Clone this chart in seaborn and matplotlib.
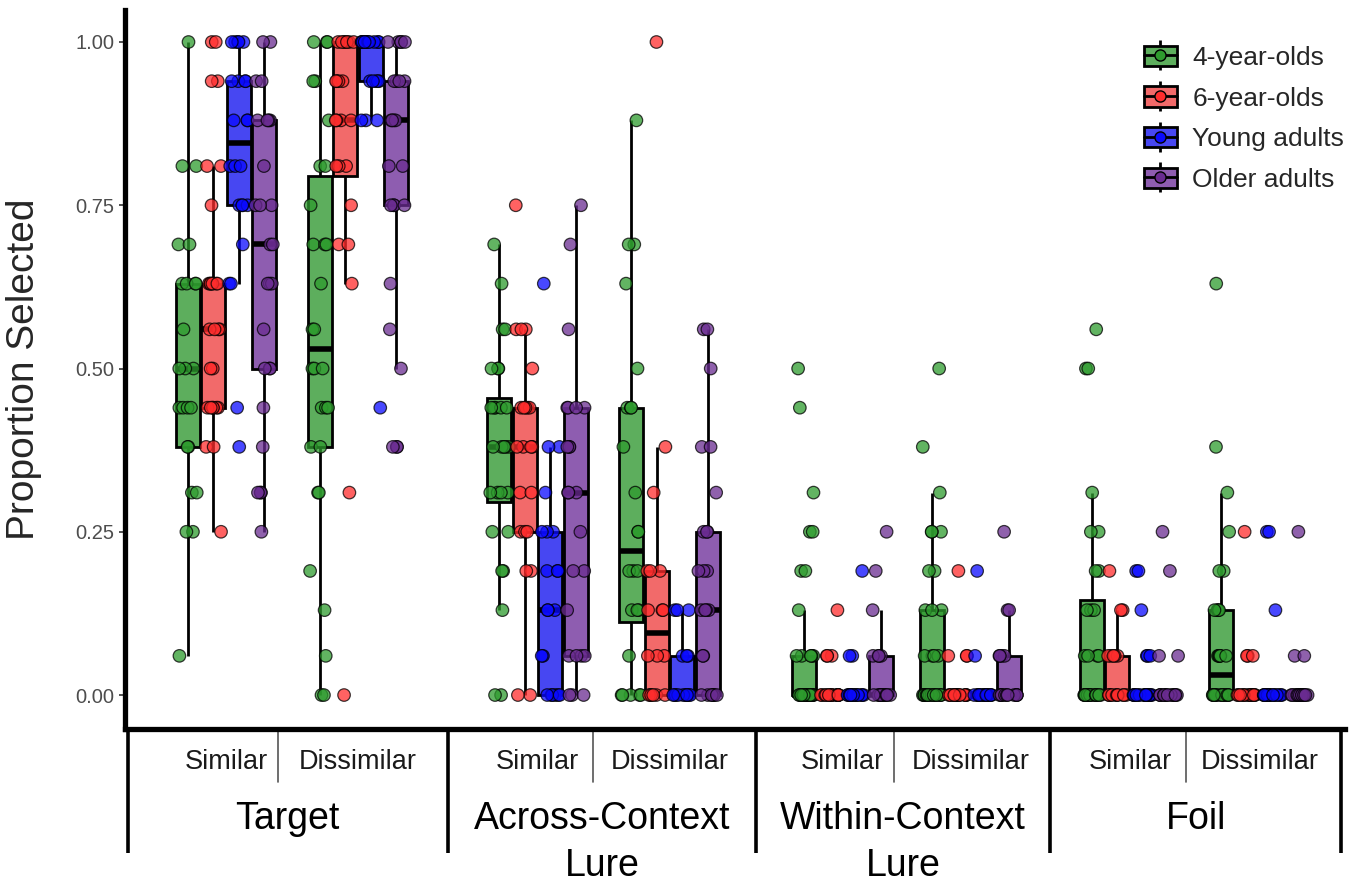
import numpy as np
import pandas as pd
import seaborn as sns
import matplotlib.pyplot as plt
from matplotlib.patches import Patch
from matplotlib.lines import Line2D
from matplotlib.transforms import blended_transform_factory

# proportion levels (k/16, rounded as printed)
levels = [0, 0.06, 0.13, 0.19, 0.25, 0.31, 0.38, 0.44, 0.5, 0.56,
          0.63, 0.69, 0.75, 0.81, 0.88, 0.94, 1.0]

item_types = ["Target", "Across-Context\nLure", "Within-Context\nLure", "Foil"]
similarity = ["Similar", "Dissimilar"]
ages = ["4-year-olds", "6-year-olds", "Young adults", "Older adults"]

# x position of each item type / similarity pair (Target-Sim, Target-Dis, Across-Sim, ...)
cond_pos = [0, 1.0, 2.36, 3.36, 4.67, 5.64, 6.85, 7.83]

# participants at each level (columns = levels), one row per condition
counts_4yo = [
    [0, 1, 0, 0, 2, 2, 2, 4, 3, 1, 4, 2, 0, 2, 0, 0, 1],   # Target Similar
    [2, 1, 1, 1, 0, 2, 2, 3, 3, 2, 1, 3, 1, 2, 1, 2, 3],   # Target Dissimilar
    [2, 0, 1, 2, 2, 4, 5, 5, 3, 2, 1, 1, 0, 0, 0, 0, 0],   # Across Similar
    [5, 1, 3, 3, 2, 1, 1, 3, 1, 0, 1, 2, 0, 0, 1, 0, 0],   # Across Dissimilar
    [20, 5, 1, 2, 2, 1, 0, 1, 1, 0, 0, 0, 0, 0, 0, 0, 0],  # Within Similar
    [18, 4, 3, 2, 3, 1, 1, 0, 1, 0, 0, 0, 0, 0, 0, 0, 0],  # Within Dissimilar
    [17, 4, 3, 2, 2, 1, 0, 0, 2, 1, 0, 0, 0, 0, 0, 0, 0],  # Foil Similar
    [16, 6, 4, 2, 1, 1, 1, 0, 0, 0, 1, 0, 0, 0, 0, 0, 0],  # Foil Dissimilar
]
counts_6yo = [
    [0, 0, 0, 0, 1, 0, 2, 6, 2, 4, 7, 0, 1, 2, 0, 2, 2],
    [1, 0, 0, 0, 0, 1, 0, 0, 0, 0, 1, 2, 1, 3, 4, 4, 7],
    [2, 0, 0, 2, 3, 2, 4, 5, 1, 3, 0, 0, 1, 0, 0, 0, 0],
    [6, 3, 3, 3, 0, 1, 1, 0, 0, 0, 0, 0, 0, 0, 0, 0, 1],
    [16, 3, 1, 0, 0, 0, 0, 0, 0, 0, 0, 0, 0, 0, 0, 0, 0],
    [16, 3, 0, 1, 0, 0, 0, 0, 0, 0, 0, 0, 0, 0, 0, 0, 0],
    [10, 5, 2, 1, 0, 0, 0, 0, 0, 0, 0, 0, 0, 0, 0, 0, 0],
    [15, 3, 0, 0, 1, 0, 0, 0, 0, 0, 0, 0, 0, 0, 0, 0, 0],
]
counts_young = [
    [0, 0, 0, 0, 0, 0, 1, 1, 0, 0, 2, 1, 4, 3, 3, 4, 5],
    [0, 0, 0, 0, 0, 0, 0, 1, 0, 0, 0, 0, 0, 0, 3, 5, 12],
    [6, 2, 3, 3, 3, 1, 2, 0, 0, 0, 1, 0, 0, 0, 0, 0, 0],
    [10, 3, 3, 0, 0, 0, 0, 0, 0, 0, 0, 0, 0, 0, 0, 0, 0],
    [16, 2, 0, 1, 0, 0, 0, 0, 0, 0, 0, 0, 0, 0, 0, 0, 0],
    [17, 1, 0, 1, 0, 0, 0, 0, 0, 0, 0, 0, 0, 0, 0, 0, 0],
    [19, 3, 1, 2, 0, 0, 0, 0, 0, 0, 0, 0, 0, 0, 0, 0, 0],
    [17, 0, 1, 0, 2, 0, 0, 0, 0, 0, 0, 0, 0, 0, 0, 0, 0],
]
counts_older = [
    [0, 0, 0, 0, 1, 3, 1, 1, 3, 1, 3, 2, 3, 1, 4, 2, 2],
    [0, 0, 0, 0, 0, 0, 3, 0, 1, 1, 1, 0, 4, 2, 4, 4, 5],
    [3, 4, 1, 2, 1, 3, 3, 4, 0, 1, 0, 1, 1, 0, 0, 0, 0],
    [7, 2, 4, 3, 3, 1, 2, 0, 1, 2, 0, 0, 0, 0, 0, 0, 0],
    [11, 4, 1, 1, 1, 0, 0, 0, 0, 0, 0, 0, 0, 0, 0, 0, 0],
    [11, 4, 2, 0, 1, 0, 0, 0, 0, 0, 0, 0, 0, 0, 0, 0, 0],
    [14, 2, 0, 1, 1, 0, 0, 0, 0, 0, 0, 0, 0, 0, 0, 0, 0],
    [16, 2, 0, 0, 1, 0, 0, 0, 0, 0, 0, 0, 0, 0, 0, 0, 0],
]

box_colors = ["#5DAE5D", "#F26A6A", "#4747F2", "#8E5DB0"]
point_colors = ["#2E9B2E", "#FF2D2D", "#0A0AFF", "#6A2C91"]

# long format table
frames = []
for age, counts in zip(ages, [counts_4yo, counts_6yo, counts_young, counts_older]):
    for pos, c in zip(cond_pos, counts):
        frames.append(pd.DataFrame({"pos": pos, "age": age,
                                    "value": np.repeat(levels, c)}))
df = pd.concat(frames, ignore_index=True)

sns.set_style("white")
plt.rcParams['font.family'] = ['Liberation Sans', 'DejaVu Sans']

fig = plt.figure(figsize=(13.68, 8.84), dpi=100)
ax = fig.add_axes([125 / 1368, (884 - 729) / 884, 1220 / 1368, 719 / 884])

sns.boxplot(data=df, x="pos", y="value", hue="age", hue_order=ages,
            native_scale=True, palette=box_colors, saturation=1,
            width=0.8, gap=0.06, showfliers=False, showcaps=False,
            linecolor="black", linewidth=2, medianprops={"linewidth": 4},
            legend=False, ax=ax)

np.random.seed(7)
sns.stripplot(data=df, x="pos", y="value", hue="age", hue_order=ages,
              native_scale=True, dodge=True, jitter=0.3, palette=point_colors,
              size=9, linewidth=0.9, edgecolor="black", alpha=0.75,
              legend=False, ax=ax)

xmin, xmax = -0.765, 8.477
ax.set_xlim(xmin, xmax)
ax.set_ylim(-0.052, 1.049)
ax.set_xticks([])
ax.set_xlabel("")
ax.set_yticks([0, 0.25, 0.5, 0.75, 1.0])
ax.set_yticklabels(["0.00", "0.25", "0.50", "0.75", "1.00"])
ax.tick_params(axis="y", labelsize=14.5, labelcolor="#4D4D4D", color="#333333",
               length=4, width=1.2, direction="out", left=True)
ax.set_ylabel("Proportion Selected", fontsize=28)
ax.yaxis.set_label_coords(-0.068, 0.5)

sns.despine(ax=ax)
for side in ["left", "bottom"]:
    ax.spines[side].set_linewidth(3.8)
    ax.spines[side].set_color("black")

# table under the axis
trans = blended_transform_factory(ax.transData, fig.transFigure)
y_top, y_bot, y_mid = 0.172, 0.035, 0.115
bounds = [xmin + 0.02]
for i in range(3):
    bounds.append((cond_pos[2 * i + 1] + cond_pos[2 * i + 2]) / 2)
bounds.append(xmax - 0.03)
for b in bounds:
    ax.plot([b, b], [y_top, y_bot], color="black", lw=2.6, transform=trans,
            clip_on=False, solid_capstyle="butt")
for i, name in enumerate(item_types):
    p_sim, p_dis = cond_pos[2 * i], cond_pos[2 * i + 1]
    mid = (bounds[i] + bounds[i + 1]) / 2
    ax.plot([mid - 0.07] * 2, [y_top, y_mid], color="#555555", lw=1.2,
            transform=trans, clip_on=False)
    ax.text(p_sim, 0.138, similarity[0], transform=trans, ha="center",
            va="center", fontsize=19.5, color="#1a1a1a")
    ax.text(p_dis, 0.138, similarity[1], transform=trans, ha="center",
            va="center", fontsize=19.5, color="#1a1a1a")
    for j, line in enumerate(name.split("\n")):
        ax.text(mid, 0.062 - j * 0.053, line, transform=trans, ha="center",
                va="baseline", fontsize=27, color="black")

# legend glyph: whisker, box, median with a point
handles = [(Line2D([], [], color="black", marker="|", markersize=21,
                   markeredgewidth=2, linestyle="none"),
            Patch(facecolor=bc, edgecolor="black", linewidth=2),
            Line2D([], [], color="black", lw=2, marker="o", markersize=8,
                   markerfacecolor=pc, markeredgecolor="black"))
           for bc, pc in zip(box_colors, point_colors)]
ax.legend(handles, ages, loc="upper right", bbox_to_anchor=(1.0, 0.975),
          bbox_transform=fig.transFigure, frameon=False, fontsize=19,
          handlelength=1.25, handleheight=0.8, handletextpad=0.6,
          labelspacing=0.62)

fig.savefig("out.png", dpi=100)
